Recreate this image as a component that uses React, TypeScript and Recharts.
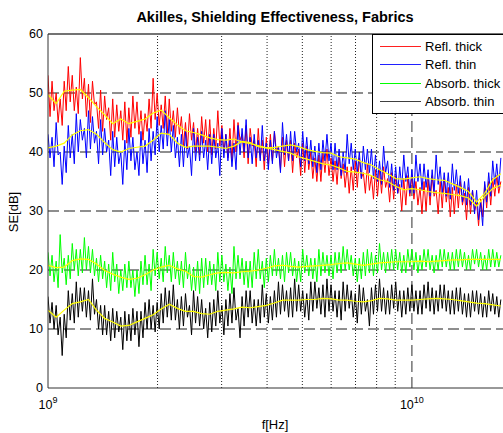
import React from 'react';
import { LineChart, Line, XAxis, YAxis, ReferenceLine, Legend } from 'recharts';

// sweep frequencies in GHz (log spaced)
const freqGHz = [
  1.000, 1.013, 1.026, 1.039, 1.053, 1.066, 1.080, 1.094, 1.108, 1.122,
  1.137, 1.151, 1.166, 1.181, 1.196, 1.211, 1.227, 1.243, 1.259, 1.275,
  1.292, 1.308, 1.325, 1.342, 1.359, 1.377, 1.395, 1.413, 1.431, 1.449,
  1.468, 1.487, 1.506, 1.525, 1.545, 1.565, 1.585, 1.605, 1.626, 1.647,
  1.668, 1.690, 1.711, 1.733, 1.756, 1.778, 1.801, 1.824, 1.848, 1.872,
  1.896, 1.920, 1.945, 1.970, 1.995, 2.021, 2.047, 2.073, 2.100, 2.127,
  2.154, 2.182, 2.210, 2.239, 2.268, 2.297, 2.326, 2.356, 2.387, 2.417,
  2.448, 2.480, 2.512, 2.544, 2.577, 2.610, 2.644, 2.678, 2.712, 2.747,
  2.783, 2.818, 2.855, 2.891, 2.929, 2.966, 3.005, 3.043, 3.082, 3.122,
  3.162, 3.203, 3.244, 3.286, 3.328, 3.371, 3.415, 3.459, 3.503, 3.548,
  3.594, 3.640, 3.687, 3.734, 3.783, 3.831, 3.881, 3.930, 3.981, 4.032,
  4.084, 4.137, 4.190, 4.244, 4.299, 4.354, 4.410, 4.467, 4.524, 4.583,
  4.642, 4.701, 4.762, 4.823, 4.885, 4.948, 5.012, 5.076, 5.142, 5.208,
  5.275, 5.343, 5.412, 5.481, 5.552, 5.623, 5.696, 5.769, 5.843, 5.919,
  5.995, 6.072, 6.150, 6.229, 6.310, 6.391, 6.473, 6.556, 6.641, 6.726,
  6.813, 6.901, 6.989, 7.079, 7.171, 7.263, 7.356, 7.451, 7.547, 7.644,
  7.743, 7.842, 7.943, 8.046, 8.149, 8.254, 8.360, 8.468, 8.577, 8.687,
  8.799, 8.912, 9.027, 9.143, 9.261, 9.380, 9.501, 9.624, 9.747, 9.873,
  10.00, 10.13, 10.26, 10.39, 10.53, 10.66, 10.80, 10.94, 11.08, 11.22,
  11.37, 11.51, 11.66, 11.81, 11.96, 12.12, 12.27, 12.43, 12.59, 12.75,
  12.92, 13.08, 13.25, 13.42, 13.59, 13.77, 13.95, 14.13, 14.31, 14.49,
  14.68, 14.87, 15.06, 15.25, 15.45, 15.65, 15.85, 16.05, 16.26, 16.47,
  16.68, 16.90, 17.11, 17.33, 17.56,
];

// raw measurements, SE in dB
const reflThick = [
  53, 46, 52, 47, 50, 45, 49, 44.5, 52, 47,
  54.5, 48.5, 53, 47, 51, 46.5, 56, 49, 52.5, 46,
  51.5, 45, 52, 48, 48.5, 44, 50.5, 43.5, 49.5, 45.5,
  47.5, 42, 49, 42.5, 48, 43.5, 47, 42, 48.5, 41.5,
  47.5, 42.5, 49.5, 44, 48.5, 43, 47, 42, 46.5, 43.5,
  49, 44, 52.5, 45.5, 50, 44.5, 48, 44, 49.5, 43,
  49, 43.5, 47, 42.5, 47.5, 43, 46, 41, 45, 40.5,
  46.5, 42, 45, 40, 44, 39.5, 46, 41.5, 45.5, 40,
  45.5, 39.5, 44, 40.5, 47, 41, 44.5, 40, 43, 39,
  44, 38.5, 45.5, 40, 45, 42, 43, 39, 44.5, 38,
  44, 41, 42, 37.5, 44, 39, 42, 37, 42.5, 38,
  43, 38.5, 43.5, 40, 41, 37, 42.5, 37.5, 42, 38.5,
  42, 36.5, 41.5, 39, 40.5, 36, 41.5, 36.5, 41, 37,
  40, 35.5, 39, 35, 39.5, 35, 40, 36.5, 40.5, 36,
  39, 35, 38.5, 34.5, 39.5, 35.5, 38, 34, 37.5, 33,
  37.5, 33.5, 38.5, 34, 39, 35.5, 36.5, 33, 38, 33.5,
  36, 32, 37, 32.5, 37, 33, 37.5, 34, 35.5, 31.5,
  36.5, 32, 36, 33, 34.5, 30, 35.5, 31, 36, 32.5,
  36, 32, 35, 31, 34, 29.5, 35, 30, 35.5, 31,
  36, 32.5, 33.5, 29.5, 35, 30.5, 35.5, 31.5, 34, 29,
  34, 29.5, 34.5, 30.5, 35, 31, 33, 28.5, 34, 29.5,
  33.5, 30, 31.5, 27.5, 32, 29, 34.5, 30.5, 35, 31,
  35.5, 32.5, 36, 33, 35,
];
const reflThin = [
  43, 39, 42.5, 37.5, 45, 39.5, 40, 34.5, 41, 36.5,
  44.5, 39, 43, 38, 46.5, 40, 45.5, 42, 44, 39,
  47, 40.5, 46, 41.5, 43.5, 38, 45.5, 39.5, 44, 40,
  42, 36, 43.5, 37.5, 42.5, 38, 40, 34.5, 42, 37,
  44, 38.5, 42.5, 37, 40, 36, 43.5, 38, 42, 36.5,
  44, 38.5, 43.5, 39.5, 46, 40, 44.5, 40.5, 47, 41,
  45.5, 40, 44.5, 39, 42.5, 37.5, 43, 37.5, 43.5, 39,
  41, 36, 44, 38.5, 42.5, 38.5, 43.5, 39, 42, 37,
  43, 38, 43, 39, 41.5, 36, 44, 39, 43, 38.5,
  42, 37.5, 41.5, 37, 44.5, 39.5, 44, 40, 45.5, 39,
  42.5, 38, 43, 39, 42, 38.5, 44.5, 38.5, 41.5, 37,
  42, 38, 43.5, 39, 41, 36.5, 45, 39.5, 43, 38.5,
  43.5, 38.5, 43.5, 40, 41.5, 37.5, 43.5, 38.5, 42.5, 38,
  42, 37.5, 41, 36.5, 41.5, 37, 42, 38.5, 43, 38.5,
  41.5, 37, 41.5, 37, 40.5, 36, 40, 36.5, 43, 38,
  41.5, 37, 40.5, 36.5, 40, 35.5, 41, 37, 40.5, 36.5,
  40.5, 35.5, 39.5, 35, 38.5, 34.5, 41, 36.5, 38.5, 34,
  38, 33.5, 37.5, 33, 37.5, 34, 39.5, 35, 37.5, 33,
  37, 33, 39.5, 35, 38, 33.5, 38, 34, 37, 32.5,
  37, 33, 39.5, 34.5, 37.5, 33, 36.5, 32.5, 36.5, 32,
  38, 33.5, 37, 33, 36, 31.5, 35, 31, 35.5, 31,
  33.5, 29.5, 33.5, 28.5, 31.5, 27.5, 35, 31.5, 36.5, 32.5,
  38.5, 34.5, 38, 34, 39,
];
const absorbThick = [
  23, 19, 22.5, 18, 21.5, 17, 26, 19.5, 22, 17.5,
  22.5, 18.5, 24.5, 20, 23.5, 19, 23.5, 19.5, 25.5, 20,
  24, 19.5, 23.5, 19, 22, 18, 22.5, 18.5, 21.5, 17,
  21, 16.5, 23, 18, 21, 16, 20, 16.5, 21, 17,
  21.5, 17, 20, 15.5, 20, 16, 21.5, 17.5, 22.5, 17.5,
  21, 16.5, 23.5, 19, 23, 18.5, 22, 18, 24, 19.5,
  22.5, 18, 23, 18.5, 21.5, 17.5, 21.5, 17, 23, 18.5,
  21, 16.5, 20.5, 16.5, 21.5, 16, 22, 17, 22, 17.5,
  21.5, 17.5, 21, 16.5, 23, 18, 22.5, 18, 21, 16.5,
  20.5, 16, 24, 18.5, 22.5, 18.5, 22, 17.5, 21.5, 17,
  21.5, 17, 23, 18.5, 23.5, 18.5, 21.5, 17, 22, 18,
  22.5, 19, 23.5, 19, 22, 18.5, 22.5, 18, 23, 19.5,
  23, 19, 22, 18, 21.5, 18, 23.5, 19.5, 22.5, 19,
  22, 18.5, 22, 18, 23.5, 19, 23, 19.5, 22.5, 19,
  22.5, 18.5, 23, 19.5, 23, 19.5, 24, 20, 23.5, 20,
  22.5, 19, 22, 18, 22, 18.5, 23, 19, 23.5, 19.5,
  23, 19, 22.5, 19.5, 24.5, 20, 23, 19.5, 23, 20,
  23.5, 20, 23.5, 20, 23, 19.5, 22.5, 19.5, 23.5, 20.5,
  23.5, 20, 23, 19.5, 22.5, 20, 23.5, 20.5, 23.5, 20,
  22.5, 19.5, 22.5, 20, 23.5, 20.5, 23.5, 20.5, 23, 20,
  23, 20, 23.5, 20.5, 23.5, 20.5, 23, 20, 22.5, 20,
  23.5, 21, 23.5, 20.5, 23, 20, 22.5, 20, 23.5, 20.5,
  23.5, 20.5, 23, 20.5, 22.5,
];
const absorbThin = [
  15.5, 11, 14.5, 10, 14, 9, 12, 5.5, 12.5, 8.5,
  16.5, 11.5, 16, 11, 18, 12, 17, 13, 17, 12,
  16.5, 11.5, 18.5, 12.5, 15, 10, 14, 9, 14, 9,
  13, 8, 13.5, 8.5, 13, 9.5, 12, 6.5, 13, 8,
  12.5, 8, 13.5, 9, 13, 7, 13, 8.5, 14.5, 10,
  15, 10, 14, 9.5, 14.5, 10, 16, 11, 17, 12,
  16.5, 11.5, 17.5, 11.5, 15, 10, 15.5, 10.5, 16, 12,
  14, 9, 16.5, 11, 15.5, 10.5, 15, 10, 13.5, 8.5,
  14.5, 9.5, 15, 10.5, 16.5, 11, 14, 9, 15, 10.5,
  16, 11, 17, 11.5, 13.5, 8.5, 15.5, 10.5, 16.5, 12,
  16.5, 11, 15, 10.5, 15, 11, 17.5, 12, 16, 11,
  15.5, 11.5, 16.5, 12, 18, 12.5, 17.5, 13, 16.5, 12,
  17, 12, 18.5, 13, 17.5, 13, 16.5, 12, 16, 11.5,
  18, 13, 18, 13.5, 17, 12.5, 17.5, 12, 18.5, 13,
  17.5, 13, 16.5, 12, 16.5, 11.5, 18, 13, 17.5, 13.5,
  16.5, 12, 16, 11, 17.5, 12.5, 17, 13, 15, 10.5,
  17, 12.5, 17.5, 13, 18.5, 13, 17, 12.5, 16.5, 12.5,
  17.5, 13.5, 18, 13, 16.5, 12, 16.5, 12.5, 17, 13,
  17.5, 13, 16.5, 12.5, 16.5, 12.5, 17.5, 13.5, 18, 13,
  17, 12.5, 16.5, 13, 17.5, 13.5, 17.5, 13, 16.5, 12.5,
  16.5, 12.5, 17, 13, 17, 12.5, 16, 12, 16, 12,
  16.5, 13, 16.5, 12.5, 16, 12, 15.5, 12, 16.5, 13,
  16, 12.5, 15.5, 12, 15,
];

// smoothed traces (yellow), one value for every fourth sweep point
const reflThickSmooth = [
  49.7, 48.2, 50.3, 50.5, 50.6, 49.2, 47.7, 46.3, 44.8, 45.6,
  44.8, 45.2, 45.6, 46.6, 47.1, 45.8, 44.6, 43.6, 43.3, 42.9,
  42.4, 42.1, 42.0, 42.2, 41.7, 41.4, 41.1, 40.7, 40.4, 40.1,
  39.8, 39.2, 38.8, 38.4, 38.0, 37.8, 37.3, 36.7, 36.6, 36.4,
  36.0, 35.3, 35.0, 34.2, 33.6, 33.8, 33.6, 33.3, 33.1, 33.0,
  32.8, 32.6, 32.2, 30.8, 32.5, 33.8, 34.4,
];
const reflThinSmooth = [
  40.7, 41.0, 41.5, 42.9, 43.6, 43.8, 43.0, 41.6, 40.4, 40.0,
  40.6, 40.8, 41.0, 42.0, 43.2, 43.0, 41.5, 40.8, 41.0, 41.0,
  41.0, 40.8, 40.6, 41.0, 41.8, 41.6, 40.9, 40.7, 40.8, 41.0,
  41.2, 40.9, 40.4, 40.1, 39.9, 39.8, 39.2, 39.0, 38.8, 38.2,
  37.8, 37.0, 36.3, 35.5, 35.4, 35.6, 35.8, 35.5, 35.3, 35.2,
  34.6, 34.0, 33.3, 31.5, 33.0, 35.3, 36.3,
];
const absorbThickSmooth = [
  20.8, 20.4, 20.5, 21.6, 21.9, 21.8, 21.0, 19.9, 19.3, 18.8,
  18.4, 18.6, 19.2, 20.0, 20.5, 20.8, 20.2, 19.8, 18.9, 18.8,
  19.2, 19.5, 19.6, 19.5, 19.7, 19.8, 20.0, 20.3, 20.7, 20.8,
  20.6, 20.5, 20.6, 20.7, 20.8, 20.9, 21.1, 21.2, 21.0, 20.8,
  21.0, 21.2, 21.3, 21.4, 21.4, 21.4, 21.5, 21.4, 21.5, 21.6,
  21.7, 21.7, 21.8, 21.8, 21.8, 21.8, 21.8,
];
const absorbThinSmooth = [
  13.2, 12.0, 13.2, 14.3, 14.6, 15.0, 13.2, 11.8, 11.2, 10.5,
  10.6, 11.2, 11.8, 12.4, 13.4, 14.2, 13.5, 13.0, 13.0, 12.6,
  12.5, 13.0, 13.2, 13.4, 13.7, 13.6, 13.8, 14.0, 14.4, 14.9,
  14.9, 14.9, 15.0, 15.0, 15.2, 15.1, 14.9, 14.9, 14.7, 14.6,
  14.8, 15.2, 15.1, 14.9, 14.9, 14.9, 15.0, 15.1, 15.2, 15.1,
  15.0, 14.8, 14.6, 14.4, 14.3, 14.1, 13.9,
];

const seriesNames = ['Refl. thick', 'Refl. thin', 'Absorb. thick', 'Absorb. thin'];
const seriesColors = ['#ff0000', '#0000ff', '#00ff00', '#000000'];
const legendColors = ['#ff2020', '#2020ff', '#00ff00', '#404040'];

const yTicks = [0, 10, 20, 30, 40, 50, 60];
const yGrid = [10, 20, 30, 40, 50];
const xTicks = [1, 10];
const xTickExp = ['9', '10'];
const xMinor = [2, 3, 4, 5, 6, 7, 8, 9];
const xMajor = [10];

const FONT = '"Liberation Sans", Arial, Helvetica, sans-serif';

const rows = freqGHz.map((f, i) => ({
  f,
  reflThick: reflThick[i],
  reflThin: reflThin[i],
  absorbThick: absorbThick[i],
  absorbThin: absorbThin[i],
  reflThickS: i % 4 === 0 ? reflThickSmooth[i / 4] : null,
  reflThinS: i % 4 === 0 ? reflThinSmooth[i / 4] : null,
  absorbThickS: i % 4 === 0 ? absorbThickSmooth[i / 4] : null,
  absorbThinS: i % 4 === 0 ? absorbThinSmooth[i / 4] : null,
}));

const rawKeys = ['reflThick', 'reflThin', 'absorbThick', 'absorbThin'];
const smoothKeys = ['reflThickS', 'reflThinS', 'absorbThickS', 'absorbThinS'];

const XTick = ({ x, y, payload }: any) => {
  const exp = xTickExp[xTicks.indexOf(payload.value)];
  return (
    <text x={x} y={y + 19} textAnchor="middle" fontSize={12.5} fontFamily={FONT} fill="#000">
      10
      <tspan dy={-6} fontSize={9}>{exp}</tspan>
    </text>
  );
};

const LegendBox = () => (
  <div
    style={{
      background: '#fff',
      border: '1px solid #000',
      padding: '2px 10px 2px 0',
      fontFamily: FONT,
      fontSize: 13,
      color: '#000',
      boxSizing: 'border-box',
    }}
  >
    {seriesNames.map((n, i) => (
      <div key={n} style={{ display: 'flex', alignItems: 'center', height: 18.5 }}>
        <span
          style={{
            display: 'inline-block',
            width: 41,
            height: 0,
            borderTop: `1px solid ${legendColors[i]}`,
            marginLeft: 7,
            marginRight: 4,
          }}
        />
        <span style={{ whiteSpace: 'nowrap' }}>{n}</span>
      </div>
    ))}
  </div>
);

export default function App() {
  return (
    <div style={{ position: 'absolute', left: 0, top: 0, width: 503, height: 433, background: '#fff', overflow: 'hidden' }}>
      <LineChart width={503} height={433} data={rows} margin={{ top: 34, right: 0, bottom: 0, left: 0 }}>
        {yGrid.map((v) => (
          <ReferenceLine key={`y${v}`} y={v} stroke="#6a6a6a" strokeWidth={1.4} strokeDasharray="11 5" />
        ))}
        {xMinor.map((v) => (
          <ReferenceLine key={`xm${v}`} x={v} stroke="#222" strokeWidth={1} strokeDasharray="1 2" />
        ))}
        {xMajor.map((v) => (
          <ReferenceLine key={`xM${v}`} x={v} stroke="#6a6a6a" strokeWidth={1.4} strokeDasharray="11 5" />
        ))}
        <ReferenceLine y={60} stroke="#444" strokeWidth={1.5} />
        <XAxis
          dataKey="f"
          type="number"
          scale="log"
          domain={[1, 17.8]}
          allowDataOverflow
          ticks={xTicks}
          tick={<XTick />}
          tickLine={false}
          tickSize={0}
          height={45}
          axisLine={{ stroke: '#333' }}
        />
        <YAxis
          type="number"
          domain={[0, 60]}
          ticks={yTicks}
          width={48}
          tickLine={false}
          tickSize={0}
          tickMargin={5}
          axisLine={{ stroke: '#333' }}
          tick={{ fontSize: 12.5, fontFamily: FONT, fill: '#000' }}
        />
        {rawKeys.map((k, i) => (
          <Line key={k} dataKey={k} name={seriesNames[i]} stroke={seriesColors[i]} strokeWidth={1} dot={false} isAnimationActive={false} />
        ))}
        {smoothKeys.map((k) => (
          <Line key={k} dataKey={k} stroke="#ffff00" strokeWidth={1.2} dot={false} connectNulls legendType="none" isAnimationActive={false} />
        ))}
        <Legend
          layout="vertical"
          align="center"
          verticalAlign="middle"
          content={<LegendBox />}
          wrapperStyle={{ top: 34, left: 372, right: 'auto', bottom: 'auto', width: 140 }}
        />
      </LineChart>
      <div style={{ position: 'absolute', left: 75, top: 8, width: 400, textAlign: 'center', fontFamily: FONT, fontSize: 14.5, fontWeight: 'bold', lineHeight: '18px' }}>
        Akilles, Shielding Effectiveness, Fabrics
      </div>
      <div style={{ position: 'absolute', left: 13, top: 212, transform: 'translate(-50%, -50%) rotate(-90deg)', fontFamily: FONT, fontSize: 13, whiteSpace: 'nowrap' }}>
        SE[dB]
      </div>
      <div style={{ position: 'absolute', left: 275, top: 424, transform: 'translate(-50%, -50%)', fontFamily: FONT, fontSize: 13, whiteSpace: 'nowrap' }}>
        f[Hz]
      </div>
    </div>
  );
}
